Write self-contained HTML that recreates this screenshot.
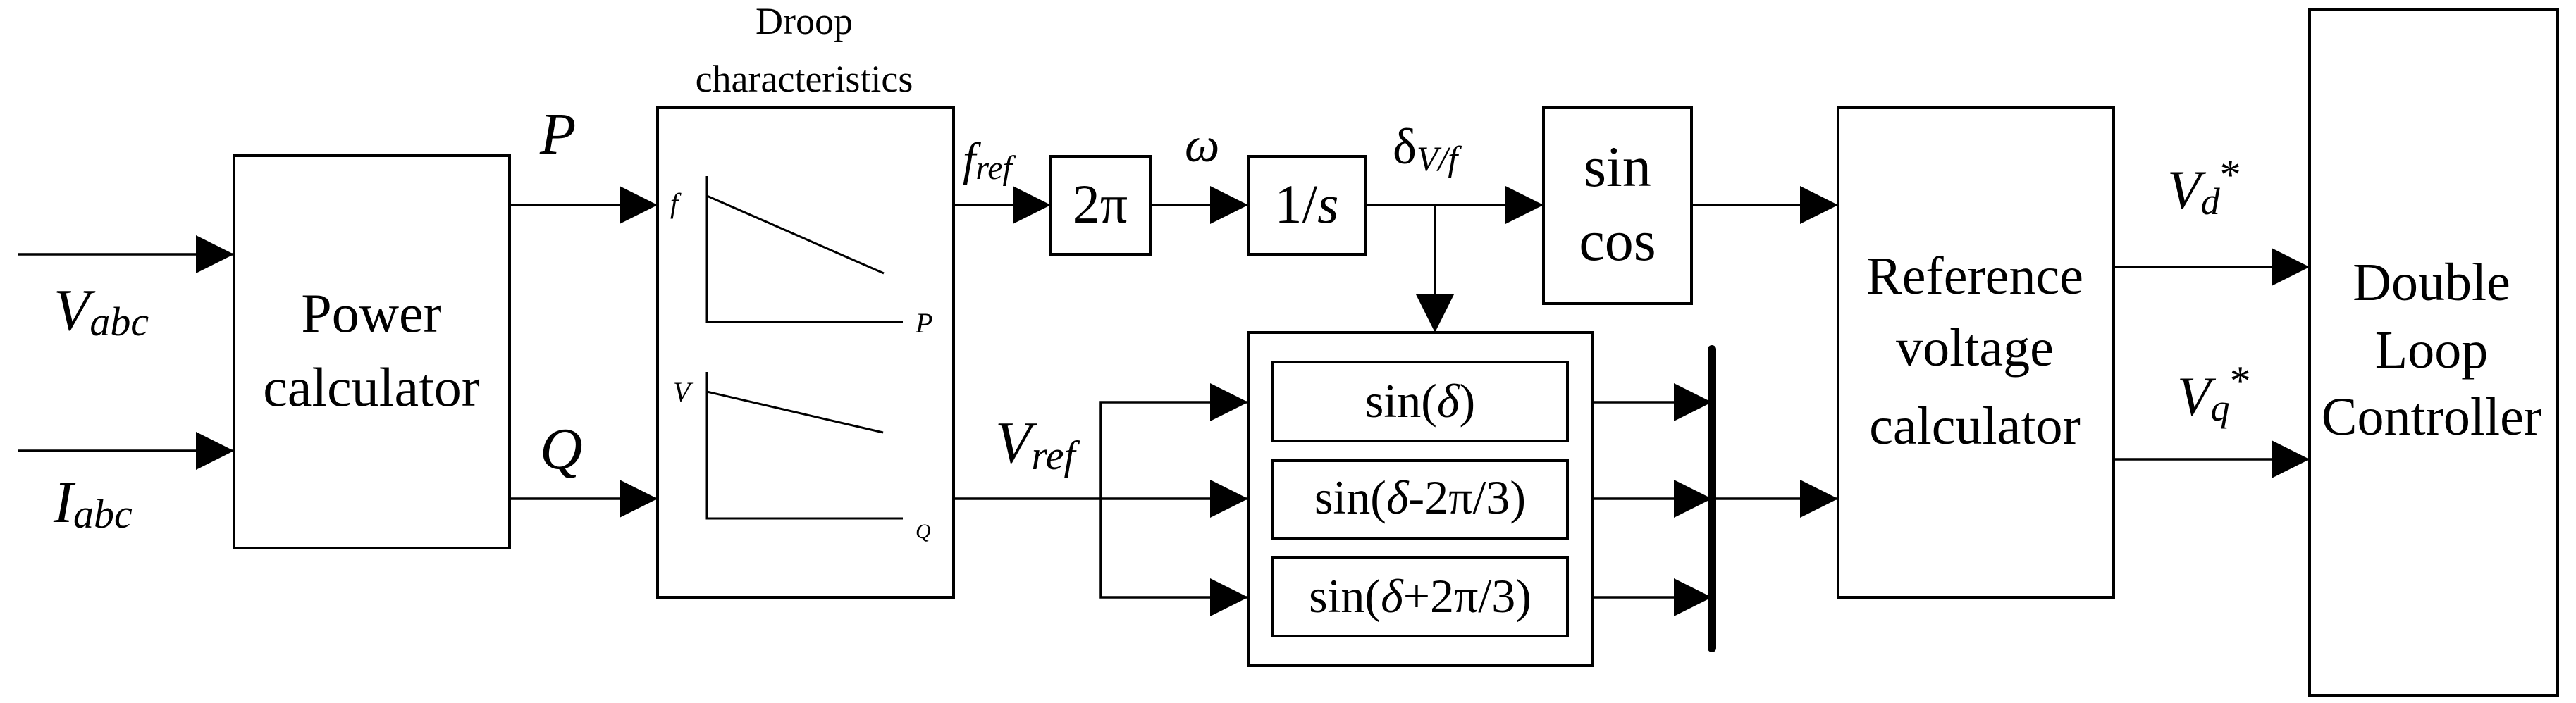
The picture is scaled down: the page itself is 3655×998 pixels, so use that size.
<!DOCTYPE html>
<html><head><meta charset="utf-8"><style>
html,body{margin:0;padding:0;background:#fff}
svg{display:block}
text{font-family:"Liberation Serif",serif;fill:#000}
</style></head><body>
<svg width="3655" height="998" viewBox="0 0 3655 998" xmlns="http://www.w3.org/2000/svg">
<defs>
<marker id="a" markerUnits="userSpaceOnUse" markerWidth="56" markerHeight="56" refX="54" refY="27" orient="auto">
<path d="M0,0 L54,27 L0,54 Z" fill="#000"/>
</marker>
</defs>
<g fill="none" stroke="#000" stroke-width="4">
<!-- boxes -->
<rect x="332" y="221" width="391" height="557"/>
<rect x="933" y="153" width="420" height="695"/>
<rect x="1491" y="222" width="141" height="139"/>
<rect x="1771" y="222" width="167" height="139"/>
<rect x="2190" y="153" width="210" height="278"/>
<rect x="1771" y="472" width="488" height="473"/>
<rect x="1806" y="514" width="418" height="112"/>
<rect x="1806" y="654" width="418" height="110"/>
<rect x="1806" y="792" width="418" height="111"/>
<rect x="2608" y="153" width="391" height="695"/>
<rect x="3277" y="14" width="352" height="973"/>
<!-- droop graphs -->
<path d="M1003,250 V457 H1281" stroke-width="3"/>
<path d="M1003,278 L1254,388" stroke-width="3"/>
<path d="M1003,528 V736 H1281" stroke-width="3"/>
<path d="M1003,556 L1253,614" stroke-width="3"/>
<!-- connectors -->
<g stroke-width="3.5" marker-end="url(#a)">
<path d="M25,361 H332"/>
<path d="M25,640 H332"/>
<path d="M723,291 H933"/>
<path d="M723,708 H933"/>
<path d="M1353,291 H1491"/>
<path d="M1632,291 H1771"/>
<path d="M1938,291 H2190"/>
<path d="M2036,291 V472"/>
<path d="M2400,291 H2608"/>
<path d="M1353,708 H1771"/>
<path d="M1562,708 V571 H1771"/>
<path d="M1562,708 V848 H1771"/>
<path d="M2259,571 H2429"/>
<path d="M2259,708 H2429"/>
<path d="M2259,848 H2429"/>
<path d="M2429,708 H2608"/>
<path d="M2999,379 H3277"/>
<path d="M2999,652 H3277"/>
</g>
<path d="M2429,496 V920" stroke-width="12" stroke-linecap="round"/>
</g>
<!-- labels -->
<text x="527" y="471" font-size="78" text-anchor="middle">Power</text>
<text x="527" y="576" font-size="78" text-anchor="middle">calculator</text>
<text x="76" y="468" font-size="84" font-style="italic">V<tspan font-size="58" dy="8">abc</tspan></text>
<text x="76" y="741" font-size="84" font-style="italic">I<tspan font-size="58" dy="8">abc</tspan></text>
<text x="766" y="218" font-size="84" font-style="italic">P</text>
<text x="766" y="665" font-size="84" font-style="italic">Q</text>
<text x="1141" y="48" font-size="54" text-anchor="middle">Droop</text>
<text x="1141" y="130" font-size="54" text-anchor="middle">characteristics</text>
<text x="951" y="302" font-size="40" font-style="italic">f</text>
<text x="1299" y="472" font-size="40" font-style="italic">P</text>
<text x="955" y="570" font-size="40" font-style="italic">V</text>
<text x="1299" y="764" font-size="30" font-style="italic">Q</text>
<text x="1366" y="248" font-size="66" font-style="italic">f<tspan font-size="48" dy="6">ref</tspan></text>
<text x="1561" y="316" font-size="78" text-anchor="middle">2π</text>
<text x="1681" y="229" font-size="70" font-style="italic">ω</text>
<text x="1854" y="316" font-size="78" text-anchor="middle">1/<tspan font-style="italic">s</tspan></text>
<text x="1976" y="232" font-size="72">δ<tspan font-size="50" font-style="italic" dy="10">V/f</tspan></text>
<text x="2295" y="264" font-size="82" text-anchor="middle">sin</text>
<text x="2295" y="369" font-size="82" text-anchor="middle">cos</text>
<text x="1412" y="656" font-size="84" font-style="italic">V<tspan font-size="58" dy="10">ref</tspan></text>
<text x="2015" y="592" font-size="68" text-anchor="middle">sin(<tspan font-style="italic">δ</tspan>)</text>
<text x="2015" y="729" font-size="68" text-anchor="middle">sin(<tspan font-style="italic">δ</tspan>-2π/3)</text>
<text x="2015" y="869" font-size="68" text-anchor="middle">sin(<tspan font-style="italic">δ</tspan>+2π/3)</text>
<text x="2802" y="417" font-size="76" text-anchor="middle">Reference</text>
<text x="2802" y="519" font-size="76" text-anchor="middle">voltage</text>
<text x="2802" y="630" font-size="76" text-anchor="middle">calculator</text>
<text x="3075" y="296" font-size="78" font-style="italic">V<tspan font-size="54" dy="8">d</tspan><tspan font-size="60" font-style="normal" dy="-36">*</tspan></text>
<text x="3089" y="589" font-size="78" font-style="italic">V<tspan font-size="54" dy="8">q</tspan><tspan font-size="60" font-style="normal" dy="-36">*</tspan></text>
<text x="3450" y="426" font-size="76" text-anchor="middle">Double</text>
<text x="3450" y="522" font-size="76" text-anchor="middle">Loop</text>
<text x="3450" y="617" font-size="76" text-anchor="middle">Controller</text>
</svg>
</body></html>
